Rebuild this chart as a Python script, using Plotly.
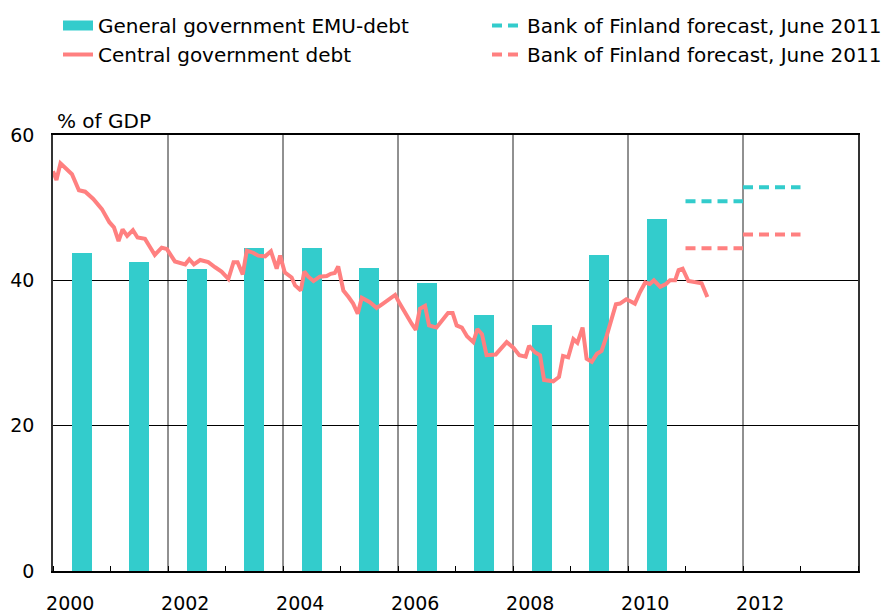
import plotly.graph_objects as go

# Annual general government EMU-debt, % of GDP
emu_years = [2000, 2001, 2002, 2003, 2004, 2005, 2006, 2007, 2008, 2009, 2010]
emu_debt = [43.8, 42.5, 41.5, 44.5, 44.4, 41.7, 39.6, 35.2, 33.9, 43.5, 48.4]

# Central government debt, % of GDP (time in decimal years)
cg_time = [
    2000.00, 2000.06, 2000.13, 2000.24, 2000.33, 2000.45, 2000.56, 2000.70, 2000.85, 2000.98,
    2001.06, 2001.14, 2001.21, 2001.29, 2001.39, 2001.47, 2001.60, 2001.67, 2001.77, 2001.89,
    2001.98, 2002.12, 2002.30, 2002.37, 2002.45, 2002.56, 2002.70, 2002.82, 2002.93, 2003.05,
    2003.14, 2003.21, 2003.30, 2003.37, 2003.48, 2003.57, 2003.69, 2003.79, 2003.89, 2003.95,
    2004.03, 2004.15, 2004.21, 2004.31, 2004.37, 2004.44, 2004.53, 2004.64, 2004.76, 2004.83,
    2004.90, 2004.96, 2005.05, 2005.14, 2005.22, 2005.30, 2005.37, 2005.51, 2005.63, 2005.74,
    2005.83, 2005.95, 2006.03, 2006.14, 2006.24, 2006.31, 2006.38, 2006.47, 2006.54, 2006.67,
    2006.79, 2006.87, 2006.95, 2007.02, 2007.11, 2007.20, 2007.31, 2007.38, 2007.46, 2007.54,
    2007.70, 2007.80, 2007.89, 2008.01, 2008.11, 2008.22, 2008.28, 2008.38, 2008.47, 2008.54,
    2008.70, 2008.80, 2008.87, 2008.96, 2009.05, 2009.12, 2009.21, 2009.28, 2009.37, 2009.46,
    2009.54, 2009.63, 2009.72, 2009.79, 2009.86, 2009.97, 2010.05, 2010.12, 2010.21, 2010.30,
    2010.38, 2010.45, 2010.56, 2010.66, 2010.73, 2010.82, 2010.88, 2010.95, 2011.05, 2011.17,
    2011.28, 2011.38,
]
cg_debt = [
    55.0, 53.8, 56.1, 55.3, 54.6, 52.4, 52.2, 51.2, 49.8, 48.0,
    47.3, 45.4, 47.0, 46.1, 46.9, 45.9, 45.7, 44.8, 43.5, 44.5,
    44.3, 42.6, 42.2, 42.9, 42.2, 42.8, 42.5, 41.8, 41.2, 40.2,
    42.5, 42.5, 40.8, 44.1, 43.8, 43.4, 43.3, 44.0, 41.6, 43.4,
    41.1, 40.4, 39.3, 38.6, 41.2, 40.5, 39.9, 40.5, 40.6, 40.9,
    41.0, 41.9, 38.6, 37.7, 36.8, 35.4, 37.6, 37.0, 36.2, 36.8,
    37.3, 38.0, 36.8, 35.2, 34.0, 33.2, 36.1, 36.5, 33.8, 33.5,
    34.7, 35.5, 35.5, 33.8, 33.5, 32.3, 31.5, 33.3, 32.6, 29.7,
    29.8, 30.8, 31.5, 30.7, 29.7, 29.5, 31.0, 30.1, 29.7, 26.3,
    26.1, 26.7, 29.6, 29.4, 31.9, 31.4, 33.5, 29.2, 28.8, 29.9,
    30.3, 32.4, 34.7, 36.7, 36.8, 37.4, 37.1, 36.8, 38.4, 39.7,
    39.5, 40.0, 39.1, 39.5, 40.0, 40.0, 41.4, 41.6, 39.9, 39.7,
    39.6, 37.7,
]

# Bank of Finland forecast, June 2011 (annual levels)
fc_years = [2011, 2012]
fc_emu = [50.9, 52.8]
fc_central = [44.4, 46.3]

year_labels = ["2000", "2002", "2004", "2006", "2008", "2010", "2012"]
label_years = [2000, 2002, 2004, 2006, 2008, 2010, 2012]
grid_years = [2002, 2004, 2006, 2008, 2010, 2012]

TEAL = "#33CCCC"
SALMON = "#FF8080"
FONT = "DejaVu Sans"


def annual_steps(years, values):
    """Horizontal segment spanning each forecast year."""
    xs, ys = [], []
    for yr, v in zip(years, values):
        xs += [yr, yr + 1, None]
        ys += [v, v, None]
    return xs, ys


fig = go.Figure()

fig.add_trace(go.Bar(
    x=emu_years, y=emu_debt, width=0.35, offset=0.325,
    marker=dict(color=TEAL, line=dict(width=0)),
    showlegend=False, legendgroup="emu", name="General government EMU-debt",
))
# Legend swatch for the bars (wide filled block)
fig.add_trace(go.Scatter(
    x=[None], y=[None], mode="lines",
    line=dict(color=TEAL, width=10),
    name="General government EMU-debt", legendgroup="emu", legend="legend",
))
fig.add_trace(go.Scatter(
    x=cg_time, y=cg_debt, mode="lines",
    line=dict(color=SALMON, width=4),
    name="Central government debt", legend="legend",
))

fx, fy = annual_steps(fc_years, fc_emu)
fig.add_trace(go.Scatter(
    x=fx, y=fy, mode="lines",
    line=dict(color=TEAL, width=4, dash="10px,6px"),
    name="Bank of Finland forecast, June 2011", legend="legend2",
))
fx, fy = annual_steps(fc_years, fc_central)
fig.add_trace(go.Scatter(
    x=fx, y=fy, mode="lines",
    line=dict(color=SALMON, width=4, dash="10px,6px"),
    name="Bank of Finland forecast, June 2011", legend="legend2",
))

# Vertical grid lines every second year
shapes = [
    dict(type="line", xref="x", yref="paper", x0=g, x1=g, y0=0, y1=1,
         line=dict(color="#222222", width=1), layer="below")
    for g in grid_years
]

fig.update_layout(
    width=883, height=615,
    margin=dict(l=53, r=25, t=135, b=44, autoexpand=False),
    paper_bgcolor="white", plot_bgcolor="white",
    font=dict(family=FONT, size=20, color="black"),
    bargap=0,
    shapes=shapes,
    xaxis=dict(
        range=[2000, 2014],
        tickmode="array", tickvals=[y + 0.3 for y in label_years], ticktext=year_labels,
        ticks="", showgrid=False,
        minor=dict(tickmode="linear", tick0=2000, dtick=1, ticks="inside", ticklen=5,
                   tickcolor="black", showgrid=False),
        showline=True, linecolor="black", linewidth=1.5, mirror=True,
        zeroline=False, tickfont=dict(size=19), ticklabelstandoff=14,
    ),
    yaxis=dict(
        range=[0, 60], tick0=0, dtick=20,
        showgrid=True, gridcolor="black", gridwidth=1,
        ticks="", showline=True, linecolor="#333333", linewidth=1.5, mirror=True,
        zeroline=False, tickfont=dict(size=19), ticklabelstandoff=13,
    ),
    legend=dict(
        xref="container", yref="container", x=58 / 883, y=1 - 6 / 615,
        xanchor="left", yanchor="top", orientation="v",
        bgcolor="rgba(0,0,0,0)", font=dict(size=20), tracegroupgap=0,
    ),
    legend2=dict(
        xref="container", yref="container", x=487 / 883, y=1 - 6 / 615,
        xanchor="left", yanchor="top", orientation="v",
        bgcolor="rgba(0,0,0,0)", font=dict(size=20), tracegroupgap=0,
    ),
    annotations=[dict(
        text="% of GDP", xref="paper", yref="paper", x=0, y=1,
        xanchor="left", yanchor="bottom", showarrow=False, xshift=2,
        font=dict(size=20),
    )],
)

fig.write_html("out.html")
